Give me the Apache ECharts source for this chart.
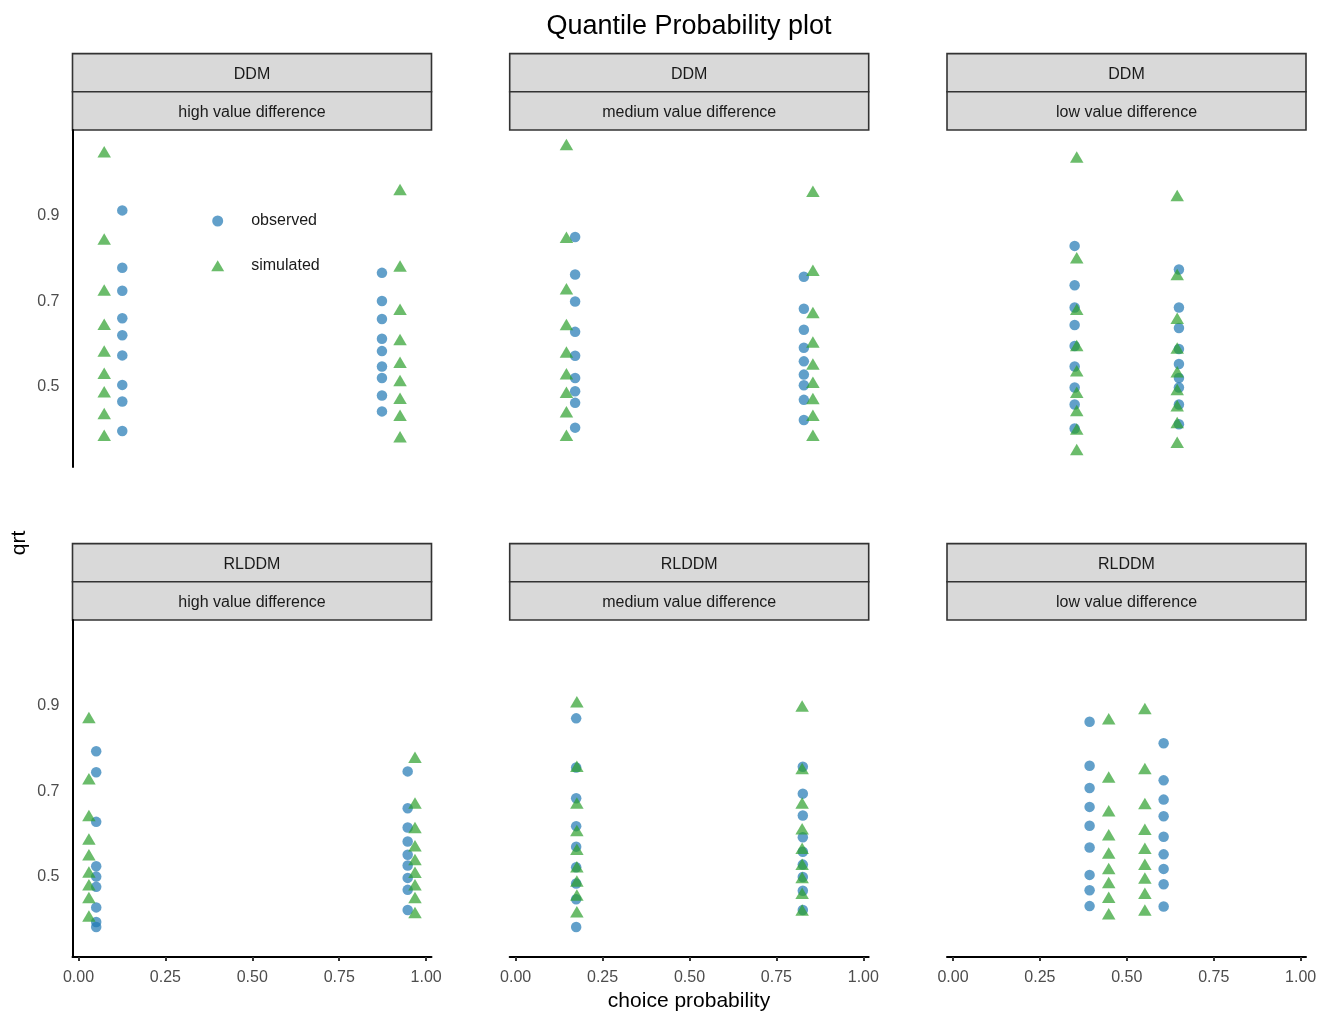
<!DOCTYPE html>
<html>
<head>
<meta charset="utf-8">
<script src="https://cdn.jsdelivr.net/npm/echarts@6/dist/echarts.min.js"></script>
<style>
  html, body { margin: 0; padding: 0; background: #ffffff; }
  #chart { width: 1328px; height: 1013px; }
</style>
</head>
<body>
<div id="chart"></div>
<script>
// ---------- facet labels ----------
const models = ['DDM', 'DDM', 'DDM', 'RLDDM', 'RLDDM', 'RLDDM'];
const conditions = ['high value difference', 'medium value difference', 'low value difference',
                    'high value difference', 'medium value difference', 'low value difference'];
const xTicks = [0, 0.25, 0.5, 0.75, 1];
const yTicks = [0.5, 0.7, 0.9];

// ---------- DDM, high value difference ----------
const ddmHighObsP = [0.126, 0.873];
const ddmHighObsRtA = [0.397, 0.466, 0.505, 0.574, 0.621, 0.661, 0.725, 0.779, 0.913];
const ddmHighObsRtB = [0.443, 0.480, 0.521, 0.548, 0.584, 0.613, 0.659, 0.701, 0.767];
const ddmHighSimP = [0.074, 0.925];
const ddmHighSimRtA = [0.387, 0.438, 0.489, 0.532, 0.584, 0.647, 0.727, 0.846, 1.050];
const ddmHighSimRtB = [0.384, 0.434, 0.474, 0.515, 0.558, 0.611, 0.682, 0.783, 0.962];

// ---------- DDM, medium value difference ----------
const ddmMedObsP = [0.171, 0.829];
const ddmMedObsRtA = [0.405, 0.463, 0.490, 0.521, 0.573, 0.629, 0.700, 0.763, 0.851];
const ddmMedObsRtB = [0.423, 0.470, 0.504, 0.529, 0.560, 0.592, 0.634, 0.683, 0.758];
const ddmMedSimP = [0.146, 0.855];
const ddmMedSimRtA = [0.387, 0.442, 0.488, 0.531, 0.582, 0.646, 0.730, 0.850, 1.067];
const ddmMedSimRtB = [0.387, 0.434, 0.473, 0.511, 0.554, 0.605, 0.674, 0.773, 0.958];

// ---------- DDM, low value difference ----------
const ddmLowObsP = [0.350, 0.650];
const ddmLowObsRtA = [0.403, 0.459, 0.499, 0.548, 0.596, 0.645, 0.686, 0.738, 0.830];
const ddmLowObsRtB = [0.413, 0.459, 0.499, 0.521, 0.554, 0.589, 0.638, 0.686, 0.775];
const ddmLowSimP = [0.356, 0.645];
const ddmLowSimRtA = [0.354, 0.402, 0.445, 0.488, 0.538, 0.597, 0.682, 0.802, 1.038];
const ddmLowSimRtB = [0.371, 0.417, 0.456, 0.494, 0.536, 0.591, 0.661, 0.763, 0.948];

// ---------- RLDDM, high value difference ----------
const rlHighObsP = [0.051, 0.947];
const rlHighObsRtA = [0.383, 0.395, 0.429, 0.477, 0.501, 0.525, 0.629, 0.745, 0.794];
const rlHighObsRtB = [0.423, 0.470, 0.498, 0.527, 0.552, 0.583, 0.616, 0.661, 0.747];
const rlHighSimP = [0.030, 0.968];
const rlHighSimRtA = [0.409, 0.452, 0.482, 0.512, 0.552, 0.589, 0.644, 0.730, 0.873];
const rlHighSimRtB = [0.417, 0.452, 0.482, 0.511, 0.541, 0.573, 0.616, 0.673, 0.780];

// ---------- RLDDM, medium value difference ----------
const rlMedObsP = [0.174, 0.826];
const rlMedObsRtA = [0.383, 0.448, 0.485, 0.523, 0.571, 0.619, 0.684, 0.756, 0.871];
const rlMedObsRtB = [0.423, 0.468, 0.500, 0.529, 0.559, 0.593, 0.644, 0.695, 0.758];
const rlMedSimP = [0.176, 0.824];
const rlMedSimRtA = [0.419, 0.458, 0.491, 0.524, 0.565, 0.609, 0.673, 0.759, 0.910];
const rlMedSimRtB = [0.423, 0.462, 0.499, 0.530, 0.567, 0.613, 0.673, 0.754, 0.900];

// ---------- RLDDM, low value difference ----------
const rlLowObsP = [0.393, 0.606];
const rlLowObsRtA = [0.432, 0.469, 0.505, 0.569, 0.620, 0.664, 0.708, 0.760, 0.863];
const rlLowObsRtB = [0.431, 0.483, 0.519, 0.553, 0.594, 0.642, 0.681, 0.726, 0.813];
const rlLowSimP = [0.448, 0.552];
const rlLowSimRtA = [0.414, 0.453, 0.487, 0.520, 0.556, 0.599, 0.655, 0.734, 0.870];
const rlLowSimRtB = [0.423, 0.462, 0.498, 0.530, 0.567, 0.612, 0.672, 0.754, 0.894];

// ---------- assemble ----------
function pts(p, a, b) {
  return a.map(v => [p[0], v]).concat(b.map(v => [p[1], v]));
}
const panels = [
  { obs: pts(ddmHighObsP, ddmHighObsRtA, ddmHighObsRtB), sim: pts(ddmHighSimP, ddmHighSimRtA, ddmHighSimRtB) },
  { obs: pts(ddmMedObsP, ddmMedObsRtA, ddmMedObsRtB),    sim: pts(ddmMedSimP, ddmMedSimRtA, ddmMedSimRtB) },
  { obs: pts(ddmLowObsP, ddmLowObsRtA, ddmLowObsRtB),    sim: pts(ddmLowSimP, ddmLowSimRtA, ddmLowSimRtB) },
  { obs: pts(rlHighObsP, rlHighObsRtA, rlHighObsRtB),    sim: pts(rlHighSimP, rlHighSimRtA, rlHighSimRtB) },
  { obs: pts(rlMedObsP, rlMedObsRtA, rlMedObsRtB),       sim: pts(rlMedSimP, rlMedSimRtA, rlMedSimRtB) },
  { obs: pts(rlLowObsP, rlLowObsRtA, rlLowObsRtB),       sim: pts(rlLowSimP, rlLowSimRtA, rlLowSimRtB) }
];

const FONT = '"Liberation Sans", Arial, Helvetica, sans-serif';
const colLefts = [72.5, 509.7, 947];
const panelW = 359;
const rowTops = [130, 620];
const panelH = 337;
const stripH = 38.2;

const grids = [], xAxes = [], yAxes = [], series = [], graphics = [];
for (let i = 0; i < 6; i++) {
  const r = Math.floor(i / 3), c = i % 3;
  grids.push({ left: colLefts[c], top: rowTops[r], width: panelW, height: panelH, outerBoundsMode: 'none', containLabel: false });
  const bottom = r === 1;
  xAxes.push({
    type: 'value', gridIndex: i, min: -0.0172, max: 1.0155,
    show: true,
    axisLine: { show: bottom, onZero: false, lineStyle: { color: '#000', width: 2 } },
    axisTick: { show: bottom, length: 4, customValues: xTicks, lineStyle: { color: '#333', width: 2 } },
    axisLabel: { show: bottom, customValues: xTicks, margin: 13, fontSize: 16, color: '#4d4d4d', fontFamily: FONT,
                 formatter: v => v.toFixed(2) },
    splitLine: { show: false }
  });
  const left = c === 0;
  yAxes.push({
    type: 'value', gridIndex: i, min: 0.313, max: 1.101,
    axisLine: { show: left, onZero: false, lineStyle: { color: '#000', width: 2 } },
    axisTick: { show: false },
    axisLabel: { show: left, customValues: yTicks, margin: 13, fontSize: 16, color: '#4d4d4d', fontFamily: FONT,
                 formatter: v => v.toFixed(1) },
    splitLine: { show: false }
  });
  series.push({
    name: 'observed', type: 'scatter', xAxisIndex: i, yAxisIndex: i,
    symbol: 'circle', symbolSize: 10.5,
    itemStyle: { color: '#1f77b4', opacity: 0.7 },
    data: panels[i].obs
  });
  series.push({
    name: 'simulated', type: 'scatter', xAxisIndex: i, yAxisIndex: i,
    symbol: 'triangle', symbolSize: [13.5, 11.5],
    itemStyle: { color: '#2ca02c', opacity: 0.7 },
    data: panels[i].sim
  });
  // strips
  const x0 = colLefts[c];
  const y2 = rowTops[r] - stripH;
  const y1 = y2 - stripH;
  [[y1, models[i]], [y2, conditions[i]]].forEach(([yy, txt]) => {
    graphics.push({
      type: 'rect', shape: { x: x0, y: yy, width: panelW, height: stripH },
      style: { fill: '#d9d9d9', stroke: '#333333', lineWidth: 1.6 }, silent: true
    });
    graphics.push({
      type: 'text', x: x0 + panelW / 2, y: yy + stripH / 2 + 2,
      style: { text: txt, fontSize: 16, fontFamily: FONT, fill: '#1a1a1a', align: 'center', verticalAlign: 'middle' },
      silent: true
    });
  });
}
// title and axis titles
graphics.push({
  type: 'text', x: 689, y: 27,
  style: { text: 'Quantile Probability plot', fontSize: 27, fontFamily: FONT, fill: '#000', align: 'center', verticalAlign: 'middle' }
});
graphics.push({
  type: 'text', x: 689, y: 1001,
  style: { text: 'choice probability', fontSize: 21, fontFamily: FONT, fill: '#000', align: 'center', verticalAlign: 'middle' }
});
graphics.push({
  type: 'text', x: 19, y: 543, rotation: Math.PI / 2,
  style: { text: 'qrt', fontSize: 21, fontFamily: FONT, fill: '#000', align: 'center', verticalAlign: 'middle' }
});

const chart = echarts.init(document.getElementById('chart'), null, { renderer: 'canvas' });
chart.setOption({
  animation: false,
  backgroundColor: '#ffffff',
  legend: {
    data: [{ name: 'observed', icon: 'circle' }, { name: 'simulated', icon: 'triangle' }],
    orient: 'vertical', left: 211.2, top: 213, padding: 0,
    itemWidth: 13, itemHeight: 11, itemGap: 28.7,
    textStyle: { fontSize: 16, color: '#1a1a1a', fontFamily: FONT, padding: [0, 0, 0, 22] }
  },
  grid: grids,
  xAxis: xAxes,
  yAxis: yAxes,
  series: series,
  graphic: graphics
});
</script>
</body>
</html>
